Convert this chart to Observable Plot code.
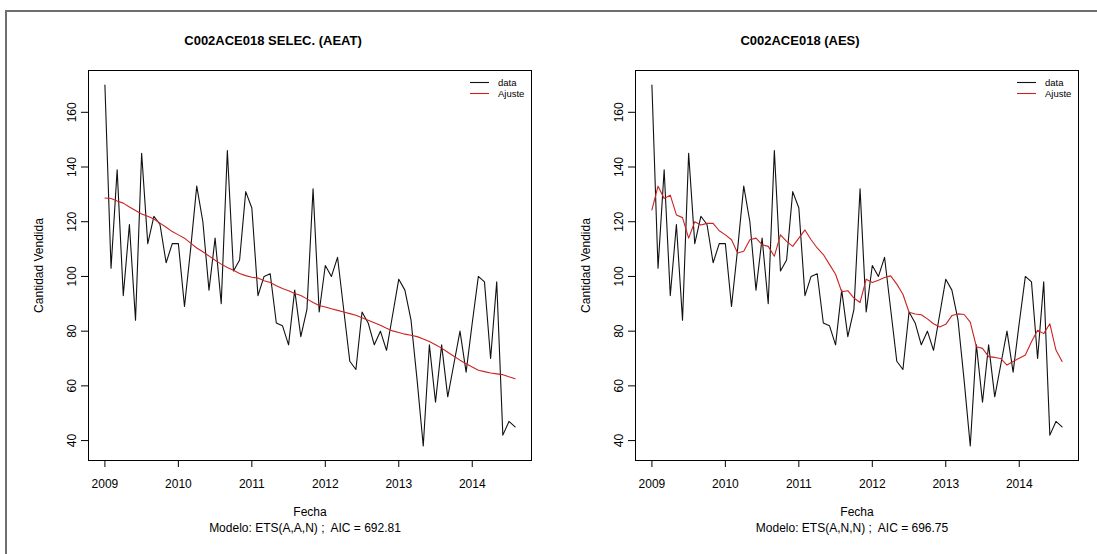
<!DOCTYPE html>
<html>
<head>
<meta charset="utf-8">
<script src="https://cdn.jsdelivr.net/npm/d3@7"></script>
<script src="https://cdn.jsdelivr.net/npm/@observablehq/plot@0.6"></script>
<style>
  body { margin: 0; background: #fff; font-family: "Liberation Sans", Arial, sans-serif; }
  #wrap { position: relative; width: 1097px; height: 554px; overflow: hidden; background: #fff; }
  #edge { position: absolute; left: 5px; top: 10px; width: 1200px; height: 700px;
          border-left: 2px solid #6e6e6e; border-top: 2px solid #6e6e6e; }
  .panel { position: absolute; top: 0; }
  .legend { position: absolute; font-size: 9.5px; line-height: 11px; color: #000; }
  .legend .row { display: flex; align-items: center; height: 11px; }
  .legend svg { margin-right: 9px; }
</style>
</head>
<body>
<div id="wrap"><div id="edge"></div></div>
<script>
// Monthly sales, January 2009 - August 2014
const startYear = 2009;
const years = [2009, 2010, 2011, 2012, 2013, 2014];
const yTicks = [40, 60, 80, 100, 120, 140, 160];

const cantidad = [
  170, 103, 139, 93, 119, 84, 145, 112, 122, 119, 105, 112,
  112, 89, 110, 133, 120, 95, 114, 90, 146, 102, 106, 131,
  125, 93, 100, 101, 83, 82, 75, 95, 78, 88, 132, 87,
  104, 100, 107, 88, 69, 66, 87, 83, 75, 80, 73, 86,
  99, 95, 84, 62, 38, 75, 54, 75, 56, 68, 80, 65,
  83, 100, 98, 70, 98, 42, 47, 45
];

// Fitted values, ETS(A,A,N)
const ajusteAEAT = [
  128.7, 128.5, 127.6, 126.8, 125.4, 124.1, 122.8, 122.0, 121.0, 119.5, 118.0, 116.4,
  115.2, 114.0, 112.2, 110.4, 109.0, 107.5, 105.9, 104.5, 103.3, 102.3, 101.1, 100.3,
  99.7, 99.4, 98.4, 97.8, 96.6, 95.6, 94.8, 93.8, 93.0, 91.8, 90.5, 89.4,
  88.8, 88.2, 87.6, 87.0, 86.4, 85.8, 84.9, 84.0, 83.1, 82.2, 81.1, 80.1,
  79.5, 78.9, 78.5, 78.0, 77.1, 76.2, 75.0, 73.8, 72.3, 70.8, 69.4, 68.1,
  66.9, 65.7, 65.2, 64.7, 64.4, 64.1, 63.3, 62.6
];

// Fitted values, ETS(A,N,N)
const ajusteAES = [
  124.3, 133.0, 128.5, 129.7, 122.5, 121.5, 114.0, 120.0, 118.8, 119.4, 119.4, 116.7,
  115.2, 113.4, 108.6, 109.2, 113.4, 114.0, 111.6, 111.0, 107.4, 115.2, 112.8, 111.0,
  114.0, 117.0, 113.4, 110.4, 108.0, 104.4, 100.8, 94.4, 94.8, 92.1, 90.5, 99.0,
  97.8, 98.6, 99.6, 100.2, 97.2, 93.5, 86.9, 86.3, 86.0, 84.5, 82.7, 81.5,
  82.5, 85.7, 86.3, 86.1, 83.3, 74.3, 73.7, 70.7, 70.4, 70.0, 67.6, 68.9,
  70.1, 71.3, 76.1, 80.3, 79.1, 82.7, 73.1, 68.9
];

const titles = ["C002ACE018 SELEC. (AEAT)", "C002ACE018 (AES)"];
const modelos = ["Modelo: ETS(A,A,N) ;  AIC = 692.81", "Modelo: ETS(A,N,N) ;  AIC = 696.75"];
const seriesNames = ["data", "Ajuste"];
const colors = ["#111111", "#cc2222"];

const FONT = "'Liberation Sans', Arial, sans-serif";
const wrap = document.getElementById("wrap");

function drawPanel(title, modelo, ajuste, left, titleShift) {
  const obs = cantidad.map((v, i) => ({t: startYear + i / 12, v}));
  const fit = ajuste.map((v, i) => ({t: startYear + i / 12, v}));
  // R-style 4% padding around the data range
  const [t0, t1] = d3.extent(obs, d => d.t);
  const [v0, v1] = d3.extent(obs.concat(fit), d => d.v);
  const px = 0.04 * (t1 - t0), py = 0.04 * (v1 - v0);

  const chart = Plot.plot({
    width: 548, height: 554,
    marginLeft: 88, marginRight: 17, marginTop: 70, marginBottom: 94,
    style: {fontFamily: FONT, fontSize: "12px", background: "transparent", color: "#000", overflow: "visible"},
    x: {domain: [t0 - px, t1 + px]},
    y: {domain: [v0 - py, v1 + py]},
    marks: [
      Plot.frame({stroke: "#000", strokeWidth: 1}),
      Plot.axisX(years, {
        tickSize: 7, tickPadding: 12, tickFormat: d => String(d), fontSize: 12,
        label: "Fecha", labelAnchor: "center", labelArrow: "none", labelOffset: 55
      }),
      Plot.axisY(yTicks, {
        tickSize: 7, tickPadding: 6, tickRotate: -90, fontSize: 12,
        label: "Cantidad Vendida", labelAnchor: "center", labelArrow: "none", labelOffset: 54
      }),
      Plot.line(obs, {x: "t", y: "v", stroke: colors[0], strokeWidth: 1.1}),
      Plot.line(fit, {x: "t", y: "v", stroke: colors[1], strokeWidth: 1.1}),
      Plot.text([title], {frameAnchor: "top", dx: titleShift, dy: -35, fontWeight: "bold", fontSize: 13}),
      Plot.text([modelo], {frameAnchor: "bottom", dx: -5, dy: 71, fontSize: 12})
    ]
  });
  chart.classList.add("panel");
  chart.style.left = left + "px";
  wrap.appendChild(chart);

  // legend in the top-right corner of the plotting box
  const lg = document.createElement("div");
  lg.className = "legend";
  lg.style.left = (left + 470) + "px";
  lg.style.top = "77px";
  seriesNames.forEach((name, k) => {
    const row = document.createElement("div");
    row.className = "row";
    const sw = document.createElementNS("http://www.w3.org/2000/svg", "svg");
    sw.setAttribute("width", "19");
    sw.setAttribute("height", "3");
    const ln = document.createElementNS("http://www.w3.org/2000/svg", "line");
    ln.setAttribute("x1", "0"); ln.setAttribute("x2", "19");
    ln.setAttribute("y1", "1.5"); ln.setAttribute("y2", "1.5");
    ln.setAttribute("stroke", colors[k]);
    ln.setAttribute("stroke-width", "1.1");
    sw.appendChild(ln);
    row.appendChild(sw);
    row.appendChild(document.createTextNode(name));
    lg.appendChild(row);
  });
  wrap.appendChild(lg);
}

drawPanel(titles[0], modelos[0], ajusteAEAT, 0, -37);
drawPanel(titles[1], modelos[1], ajusteAES, 547, -57);
</script>
</body>
</html>
